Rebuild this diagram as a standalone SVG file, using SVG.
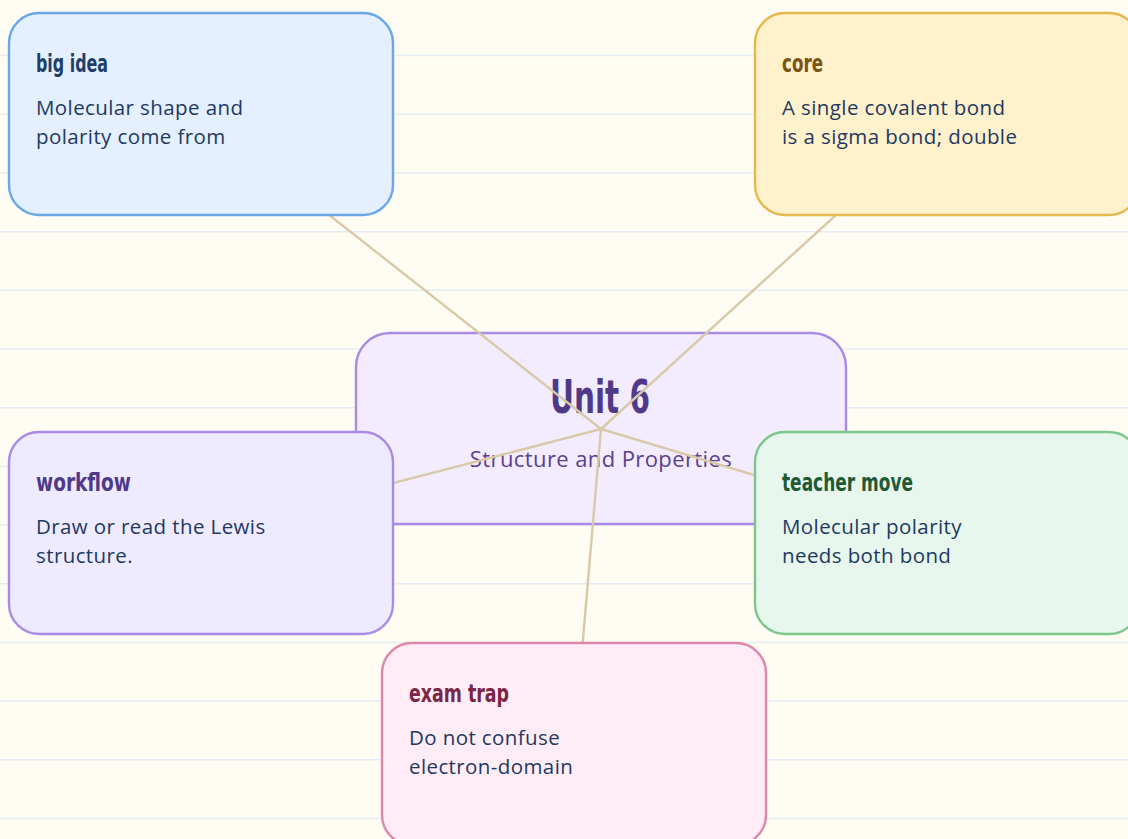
<svg xmlns="http://www.w3.org/2000/svg" width="1128" height="839" viewBox="0 0 1128 839">
<defs>
<style>
.bg{fill:#fffcf3}
.rule{stroke:#e3edf3;stroke-width:1.5}
.box{stroke-width:2.4}
.head{font-family:"Liberation Sans Narrow","DejaVu Sans Condensed","Roboto Condensed",sans-serif;font-weight:bold;font-size:24px}
.body{font-family:"Open Sans","Noto Sans",sans-serif;font-size:20.5px;letter-spacing:0.4px;fill:#22395f}
.conn{stroke:#d8c9a7;stroke-width:2.4;fill:none;stroke-linecap:round}
</style>
</defs>
<rect class="bg" x="0" y="0" width="1128" height="839"/>
<g id="ruling">
<line class="rule" x1="0" y1="55.6" x2="1128" y2="55.6"/>
<line class="rule" x1="0" y1="114.3" x2="1128" y2="114.3"/>
<line class="rule" x1="0" y1="173" x2="1128" y2="173"/>
<line class="rule" x1="0" y1="231.7" x2="1128" y2="231.7"/>
<line class="rule" x1="0" y1="290.3" x2="1128" y2="290.3"/>
<line class="rule" x1="0" y1="349" x2="1128" y2="349"/>
<line class="rule" x1="0" y1="407.7" x2="1128" y2="407.7"/>
<line class="rule" x1="0" y1="466.4" x2="1128" y2="466.4"/>
<line class="rule" x1="0" y1="525" x2="1128" y2="525"/>
<line class="rule" x1="0" y1="583.7" x2="1128" y2="583.7"/>
<line class="rule" x1="0" y1="642.4" x2="1128" y2="642.4"/>
<line class="rule" x1="0" y1="701" x2="1128" y2="701"/>
<line class="rule" x1="0" y1="759.8" x2="1128" y2="759.8"/>
<line class="rule" x1="0" y1="818.5" x2="1128" y2="818.5"/>
</g>
<g id="center">
<rect class="box" x="356" y="333" width="490" height="191" rx="34" fill="#f3ecff" stroke="#a98be6"/>
<text x="550" y="413" textLength="100" lengthAdjust="spacingAndGlyphs" font-family="'Liberation Sans Narrow','DejaVu Sans Condensed',sans-serif" font-weight="bold" font-size="46" fill="#4f3a8a">Unit 6</text>
<text x="601" y="467" text-anchor="middle" font-family="'Open Sans','Noto Sans',sans-serif" font-size="22" letter-spacing="0.4" fill="#5a3f92">Structure and Properties</text>
</g>
<g id="connectors">
<line class="conn" x1="601" y1="429" x2="201" y2="114"/>
<line class="conn" x1="601" y1="429" x2="947" y2="114"/>
<line class="conn" x1="601" y1="429" x2="201" y2="533"/>
<line class="conn" x1="601" y1="429" x2="947" y2="533"/>
<line class="conn" x1="601" y1="429" x2="574" y2="744"/>
</g>
<g id="big-idea">
<rect class="box" x="9" y="13" width="384" height="202" rx="30" fill="#e4efff" stroke="#69a7e6"/>
<text class="head" x="36" y="72" textLength="72" lengthAdjust="spacingAndGlyphs" fill="#1f3f6b">big idea</text>
<text class="body" x="36" y="115">Molecular shape and</text>
<text class="body" x="36" y="144">polarity come from</text>
</g>
<g id="core">
<rect class="box" x="755" y="13" width="384" height="202" rx="30" fill="#fff1cc" stroke="#e4b84a"/>
<text class="head" x="782" y="72" textLength="41" lengthAdjust="spacingAndGlyphs" fill="#7a5414">core</text>
<text class="body" x="782" y="115">A single covalent bond</text>
<text class="body" x="782" y="144">is a sigma bond; double</text>
</g>
<g id="workflow">
<rect class="box" x="9" y="432" width="384" height="202" rx="30" fill="#eeeaff" stroke="#a98be6"/>
<text class="head" x="36" y="491" textLength="95" lengthAdjust="spacingAndGlyphs" fill="#4f3a8a">workflow</text>
<text class="body" x="36" y="534">Draw or read the Lewis</text>
<text class="body" x="36" y="563">structure.</text>
</g>
<g id="teacher-move">
<rect class="box" x="755" y="432" width="384" height="202" rx="30" fill="#e7f7ee" stroke="#7cc68a"/>
<text class="head" x="782" y="491" textLength="131" lengthAdjust="spacingAndGlyphs" fill="#1f5a35">teacher move</text>
<text class="body" x="782" y="534">Molecular polarity</text>
<text class="body" x="782" y="563">needs both bond</text>
</g>
<g id="exam-trap">
<rect class="box" x="382" y="643" width="384" height="202" rx="30" fill="#ffecf6" stroke="#dd88ab"/>
<text class="head" x="409" y="702" textLength="100" lengthAdjust="spacingAndGlyphs" fill="#7a2646">exam trap</text>
<text class="body" x="409" y="745">Do not confuse</text>
<text class="body" x="409" y="774">electron-domain</text>
</g>
</svg>
